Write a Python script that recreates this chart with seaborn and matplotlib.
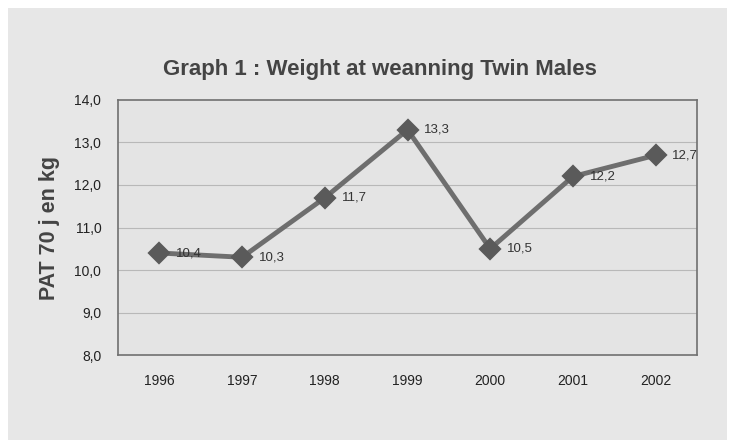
import matplotlib
matplotlib.use("Agg")
import matplotlib.pyplot as plt
import seaborn as sns
import pandas as pd
from matplotlib.patches import Rectangle

years = ["1996", "1997", "1998", "1999", "2000", "2001", "2002"]
weights = [10.4, 10.3, 11.7, 13.3, 10.5, 12.2, 12.7]
yticks = [8.0, 9.0, 10.0, 11.0, 12.0, 13.0, 14.0]

df = pd.DataFrame({"year": years, "weight": weights})

sns.set_theme(style="white")
plt.rcParams["font.family"] = ["Liberation Sans", "DejaVu Sans"]

fig = plt.figure(figsize=(7.34, 4.43), dpi=100, facecolor="white")
fig.patches.append(Rectangle((0.011, 0.007), 0.98, 0.975, transform=fig.transFigure,
                             facecolor="#e7e7e7", edgecolor="none", zorder=-5))
ax = fig.add_axes([0.1608, 0.1986, 0.7888, 0.5757])
ax.set_zorder(2)
ax.set_facecolor("#e4e4e4")

sns.pointplot(data=df, x="year", y="weight", ax=ax, color="#6e6e6e",
              markers="D", linestyles="-", errorbar=None,
              markersize=9, linewidth=3.5)
for line in ax.lines:
    line.set_markerfacecolor("#5a5a5a")
    line.set_markeredgecolor("#5a5a5a")

for i, v in enumerate(weights):
    ax.annotate(f"{v:.1f}".replace(".", ","), (i, v), xytext=(12, 0),
                textcoords="offset points", fontsize=9.5, color="#333333", va="center")

ax.set_ylim(8, 14)
ax.set_xlim(-0.5, 6.5)
ax.set_yticks(yticks)
ax.set_yticklabels([f"{t:.1f}".replace(".", ",") for t in yticks], fontsize=10, color="#222222")
ax.tick_params(axis="x", labelsize=10, colors="#222222", pad=8)
ax.tick_params(axis="y", pad=6)
for t in yticks[1:-1]:
    ax.axhline(t, color="#b8b8b8", lw=0.8, zorder=0)
for s in ax.spines.values():
    s.set_color("#707070")
    s.set_linewidth(1.2)
ax.set_xlabel("")
ax.set_ylabel("PAT 70 j en kg", fontsize=15.5, fontweight="bold", color="#444444", labelpad=10)
fig.text(0.517, 0.842, "Graph 1 : Weight at weanning Twin Males", ha="center", va="center",
         fontsize=16, fontweight="bold", color="#444444")

fig.savefig("out.png", dpi=100, facecolor=fig.get_facecolor())
